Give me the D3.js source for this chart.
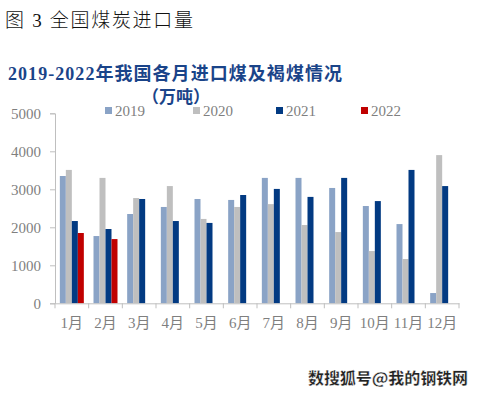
<!DOCTYPE html>
<html><head><meta charset="utf-8">
<script src="https://cdn.jsdelivr.net/npm/d3@7/dist/d3.min.js"></script>
<style>body{margin:0;background:#fff;}svg{display:block;}</style>
</head><body>
<script>
const months = ["1月","2月","3月","4月","5月","6月","7月","8月","9月","10月","11月","12月"];
const years = ["2019","2020","2021","2022"];
const v2019 = [3350,1770,2350,2535,2745,2720,3300,3300,3035,2560,2085,270];
const v2020 = [3510,3300,2770,3085,2220,2535,2610,2060,1875,1375,1165,3900];
const v2021 = [2165,1955,2745,2165,2115,2850,3010,2800,3300,2690,3510,3085];
const v2022 = [1850,1690,null,null,null,null,null,null,null,null,null,null];
const yTicks = [0,1000,2000,3000,4000,5000];
const colors = {"2019":"#8AA3C6","2020":"#BFBFBF","2021":"#023A82","2022":"#C00000"};
const series = {"2019":v2019,"2020":v2020,"2021":v2021,"2022":v2022};

const W=480,H=399;
const svg=d3.select("body").append("svg").attr("width",W).attr("height",H);
const serif='"Liberation Serif","Noto Sans CJK SC",serif';

svg.append("text").attr("x",5).attr("y",27).attr("font-family",'"Liberation Serif","Noto Sans CJK SC"').attr("font-weight",300)
  .attr("font-size",19).attr("fill","#111").attr("textLength",188).text("图 3  全国煤炭进口量");

svg.append("text").attr("x",8).attr("y",80).attr("font-family",'"Liberation Serif","Noto Sans CJK SC"').attr("font-weight",700)
  .attr("font-size",18).attr("fill","#1A4489").attr("textLength",334).text("2019-2022年我国各月进口煤及褐煤情况");
svg.append("text").attr("x",176).attr("y",103).attr("text-anchor","middle").attr("font-family",'"Noto Sans CJK SC"').attr("font-weight",700)
  .attr("font-size",17).attr("fill","#1A4489").text("（万吨）");

const x0=d3.scaleBand().domain(months).range([55,459]).paddingInner(0).paddingOuter(0);
const x1=d3.scaleBand().domain(years).range([0,x0.bandwidth()]).paddingInner(0).paddingOuter(0.806);
const y=d3.scaleLinear().domain([0,5000]).range([303.3,113.3]);

// y axis
const yAxis=svg.append("g").attr("transform","translate(55,0)")
  .call(d3.axisLeft(y).tickValues(yTicks).tickSize(5).tickPadding(9).tickFormat(d3.format("d")));
yAxis.select(".domain").attr("stroke","#BFBFBF");
yAxis.selectAll(".tick line").attr("stroke","#BFBFBF");
yAxis.selectAll("text").attr("font-family",serif).attr("font-size",15).attr("fill","#7F7F7F");

// bars
months.forEach((m,i)=>{
  const g=svg.append("g").attr("transform",`translate(${x0(m)},0)`);
  years.forEach(yr=>{
    const v=series[yr][i];
    if(v==null) return;
    g.append("rect").attr("x",x1(yr)).attr("width",x1.bandwidth()).attr("y",y(v)).attr("height",y(0)-y(v)).attr("fill",colors[yr]);
  });
});

// x axis
const xAxis=svg.append("g").attr("transform",`translate(0,${y(0)})`)
  .call(d3.axisBottom(x0).tickSize(0).tickPadding(14));
xAxis.select(".domain").attr("stroke","#BFBFBF");
xAxis.selectAll("text").attr("font-family",serif).attr("font-size",15).attr("fill","#7F7F7F");
const bounds=months.map(m=>x0(m)).concat([x0.range()[1]]);
svg.append("g").selectAll("line").data(bounds).join("line")
  .attr("x1",d=>d).attr("x2",d=>d).attr("y1",y(0)).attr("y2",y(0)+5).attr("stroke","#BFBFBF");

// legend
const legX=[105,193,276,361];
const leg=svg.append("g");
years.forEach((yr,i)=>{
  leg.append("rect").attr("x",legX[i]).attr("y",107).attr("width",7).attr("height",7).attr("fill",colors[yr]);
  leg.append("text").attr("x",legX[i]+10).attr("y",116).attr("font-family",serif).attr("font-size",15).attr("fill","#7F7F7F").text(yr);
});

// watermark
svg.append("text").attr("x",468).attr("y",384).attr("text-anchor","end").attr("font-family",'"Noto Sans CJK SC"').attr("font-weight",900)
  .attr("font-size",16).attr("fill","#222").attr("stroke","#fff").attr("stroke-width",0.4).attr("textLength",160).text("数搜狐号@我的钢铁网");
</script>
</body></html>
